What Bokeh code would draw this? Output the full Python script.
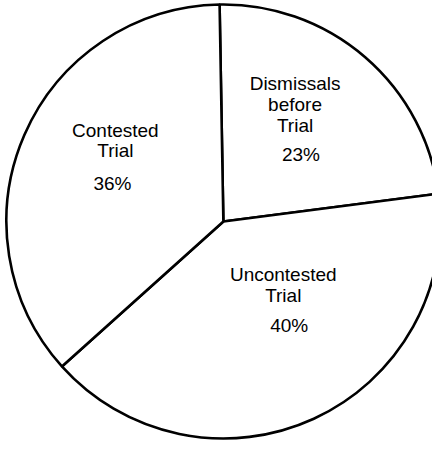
import math
from bokeh.plotting import figure
from bokeh.models import Range1d
from bokeh.core.properties import value
from bokeh.embed import file_html
from bokeh.resources import INLINE

# ---- data ----
categories = ["Dismissals before Trial", "Uncontested Trial", "Contested Trial"]
label_lines = [["Dismissals", "before", "Trial"], ["Uncontested", "Trial"], ["Contested", "Trial"]]
percents = [23, 40, 36]

# ---- layout (reference-pixel coordinates, y measured downward) ----
W, H = 432, 441
RW, RH = 440, 449
cx, cy, R = 227, 225, 221
label_pos = [(300, 85, 306, 157), (288, 279, 294, 331), (117, 132, 114, 186)]  # (x lines, y first line, x pct, y pct)
line_gap = 21

p = figure(width=W, height=H, output_backend="svg", toolbar_location=None,
           x_range=Range1d(0, RW), y_range=Range1d(-RH, 0),
           min_border=0, outline_line_color=None)
p.axis.visible = False
p.grid.visible = False
p.background_fill_color = "white"
p.border_fill_color = "white"

total = sum(percents)
start = math.pi / 2 + math.radians(1)
for i, v in enumerate(percents):
    sweep = v / total * 2 * math.pi
    end = start - sweep
    p.wedge(x=cx, y=-cy, radius=R, start_angle=end, end_angle=start,
            fill_color="white", line_color="black", line_width=2.6)
    start = end

font = value("Liberation Sans")
for lines, v, (lx, ly, px, py) in zip(label_lines, percents, label_pos):
    ys = [-(ly + k * line_gap) for k in range(len(lines))]
    p.text(x=[lx] * len(lines), y=ys, text=lines, text_font=font, text_font_size="19px",
           text_align="center", text_baseline="middle", text_color="#000000")
    p.text(x=[px], y=[-py], text=[f"{v}%"], text_font=font, text_font_size="19px",
           text_align="center", text_baseline="middle", text_color="#000000")

open("out.html", "w").write(file_html(p, INLINE))
